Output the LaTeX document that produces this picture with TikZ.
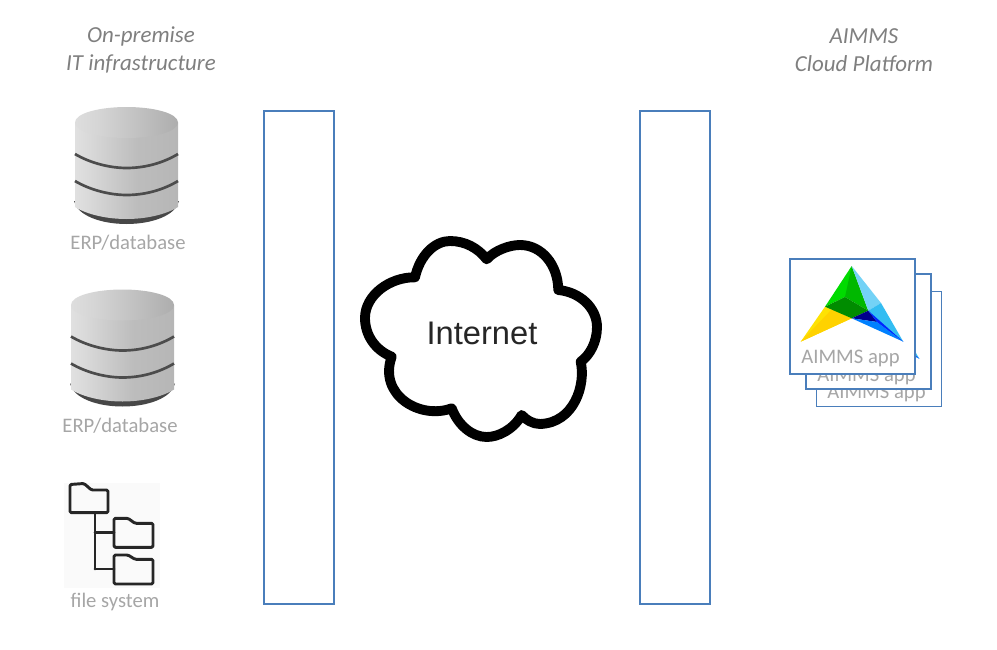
\documentclass[tikz,border=0pt]{standalone}
\usepackage{fontspec}
\setmainfont{Carlito}
\newfontfamily\netfont{Liberation Sans}
\usetikzlibrary{shadows,calc}
\pgfdeclarehorizontalshading{dbbody}{100bp}{
 color(0bp)=(black!30); color(3bp)=(black!20); color(14bp)=(black!8); color(30bp)=(black!14);
 color(55bp)=(black!26); color(85bp)=(black!30); color(97bp)=(black!26); color(100bp)=(black!34)}
\pgfdeclarehorizontalshading{dbtop}{100bp}{
 color(0bp)=(black!6); color(35bp)=(black!16); color(75bp)=(black!32); color(100bp)=(black!14)}
\definecolor{boxblue}{HTML}{4A7EBB}
\definecolor{lblgrey}{HTML}{A6A6A6}
\definecolor{ttlgrey}{HTML}{7F7F7F}
\tikzset{
 x=0.75pt,y=-0.75pt,
 gate/.style={draw=boxblue,line width=1.2pt,fill=white,minimum width=52.5pt,minimum height=369.75pt,inner sep=0pt,
   drop shadow={shadow xshift=1pt,shadow yshift=-1pt,fill=black!35,opacity=.6}},
 title/.style={font=\itshape\fontsize{17.2}{21}\selectfont,text=ttlgrey,align=center,inner sep=0pt},
 lbl/.style={font=\fontsize{15.5}{16}\selectfont,text=lblgrey,inner sep=0pt},
 appbox/.style={draw=boxblue,line width=1.4pt,fill=white,minimum width=93.75pt,minimum height=86.25pt,inner sep=0pt},
 tree/.style={draw=black!85,line width=2.2pt,line join=round,line cap=round,rounded corners=1pt},
 cloudline/.style={draw=black,line width=7.4pt,fill=white,line join=round}
}
\newcommand{\dbicon}[1]{%
 \begin{scope}[shift={#1}]
  \fill[black!72] (-1,94) .. controls (2,108) and (25,117) .. (51.5,117) .. controls (78,117) and (101,108) .. (104,94) -- cycle;
  \shade[shading=dbbody] (0,15.5) -- (103,15.5) -- (103,100) .. controls (90,108) and (70,112) .. (51.5,112) .. controls (33,112) and (13,108) .. (0,100) -- cycle;
  \shade[shading=dbtop] (0,15.5) .. controls (0,6) and (25,0) .. (51.5,0) .. controls (78,0) and (103,6) .. (103,15.5) .. controls (103,25) and (78,31) .. (51.5,31) .. controls (25,31) and (0,25) .. (0,15.5) -- cycle;
  \draw[black!70,line width=2pt] (0,47) .. controls (15,56) and (35,61) .. (51.5,61) .. controls (70,61) and (88,56) .. (103,47);
  \draw[black!70,line width=2pt] (0,74) .. controls (15,83) and (35,88) .. (51.5,88) .. controls (70,88) and (88,83) .. (103,74);
 \end{scope}}
\newcommand{\aimmslogo}[1]{%
 \begin{scope}[shift={#1}]
  \fill[yellow!85!orange] (825,306.7) -- (800.7,341.7) -- (851.7,318.3) -- cycle;
  \fill[orange!35!yellow] (834,307) -- (800.7,341.7) -- (851.7,318.3) -- (838,312) -- cycle;
  \fill[green!86!black] (851.7,266) -- (825,306.7) -- (845,297) -- (851.7,290) -- cycle;
  \fill[green!72!black] (851.7,266) -- (845,297) -- (868.3,310.7) -- cycle;
  \fill[green!55!black] (845,297) -- (825,306.7) -- (851.7,318.3) -- (868.3,310.7) -- cycle;
  \fill[cyan!55] (851.7,266) -- (868.3,310.7) -- (881,303) -- cycle;
  \fill[cyan!80] (881,303) -- (868.3,310.7) -- (877,322) -- (903.3,341.7) -- cycle;
  \fill[blue!55!black] (868.3,310.7) -- (851.7,318.3) -- (877,322) -- cycle;
  \fill[blue!50!cyan] (877,322) -- (851.7,318.3) -- (903.3,341.7) -- cycle;
  \fill[blue!85!cyan] (868.3,310.7) -- (877,322) -- (903.3,341.7) -- cycle;
 \end{scope}}
\begin{document}
\begin{tikzpicture}
\useasboundingbox (0,0) rectangle (997,650);
\node[title] (t1) at (141,50) {On-premise\\IT infrastructure};
\node[title] (t2) at (864,50) {AIMMS\\Cloud Platform};
\node[gate] (g1) at (299,357.5) {};
\node[gate] (g2) at (675,357.5) {};
% databases
\dbicon{(75,107)}
\node[lbl] (d1) at (128,243) {ERP/database};
\dbicon{(71,289.5)}
\node[lbl] (d2) at (120,426) {ERP/database};
% file system
\fill[black!2] (64,483) rectangle (160,588);
\draw[tree] (70,512.7) -- (70,484.5) -- (84,483.5) -- (91.5,490) -- (108,490) -- (108,512.7) -- cycle;
\draw[tree] (95,512.7) -- (95,569);
\draw[tree] (95,532.3) -- (114,532.3);
\draw[tree] (95,569) -- (114,569);
\draw[tree] (114,547.3) -- (114,518.3) -- (128,518.3) -- (135,523.3) -- (153,523.3) -- (153,547.3) -- cycle;
\draw[tree] (114,584) -- (114,555) -- (128,555) -- (135,559.3) -- (153,559.3) -- (153,584) -- cycle;
\node[lbl] (f) at (115,602) {file system};
% cloud
\draw[cloudline] (486.7,259.3)
 .. controls (495,250) and (510,245) .. (520,245)
 .. controls (542,245) and (558,265) .. (558.3,290)
 .. controls (580,292) and (597,308) .. (597,327)
 .. controls (597,342) and (590,355) .. (580.7,361.7)
 .. controls (586,385) and (574,423) .. (540,424)
 .. controls (533,424) and (526,420) .. (521.7,415)
 .. controls (513,430) and (498,437) .. (486.7,437)
 .. controls (472,437) and (458,425) .. (451.7,408.3)
 .. controls (420,420) and (378,395) .. (391.7,356.7)
 .. controls (375,350) and (365,335) .. (365,318)
 .. controls (365,295) and (390,277) .. (415,277.3)
 .. controls (420,255) and (435,241) .. (450,241)
 .. controls (465,241) and (478,248) .. (486.7,259.3) -- cycle;
\node[font=\netfont\fontsize{24.5}{28}\selectfont,text=black!85,inner sep=0pt] (net) at (482,333) {Internet};
% apps
\node[appbox] (a3) at (879,349) {};
\aimmslogo{(27,34)}
\node[lbl] (l3) at (876.5,393.5) {AIMMS app};
\node[appbox] (a2) at (868.5,331.7) {};
\aimmslogo{(16,17)}
\node[lbl] (l2) at (866.5,376.5) {AIMMS app};
\node[appbox] (a1) at (852.5,316.3) {};
\aimmslogo{(0,0)}
\node[lbl] (l1) at (850.5,358.5) {AIMMS app};
\end{tikzpicture}
\end{document}
